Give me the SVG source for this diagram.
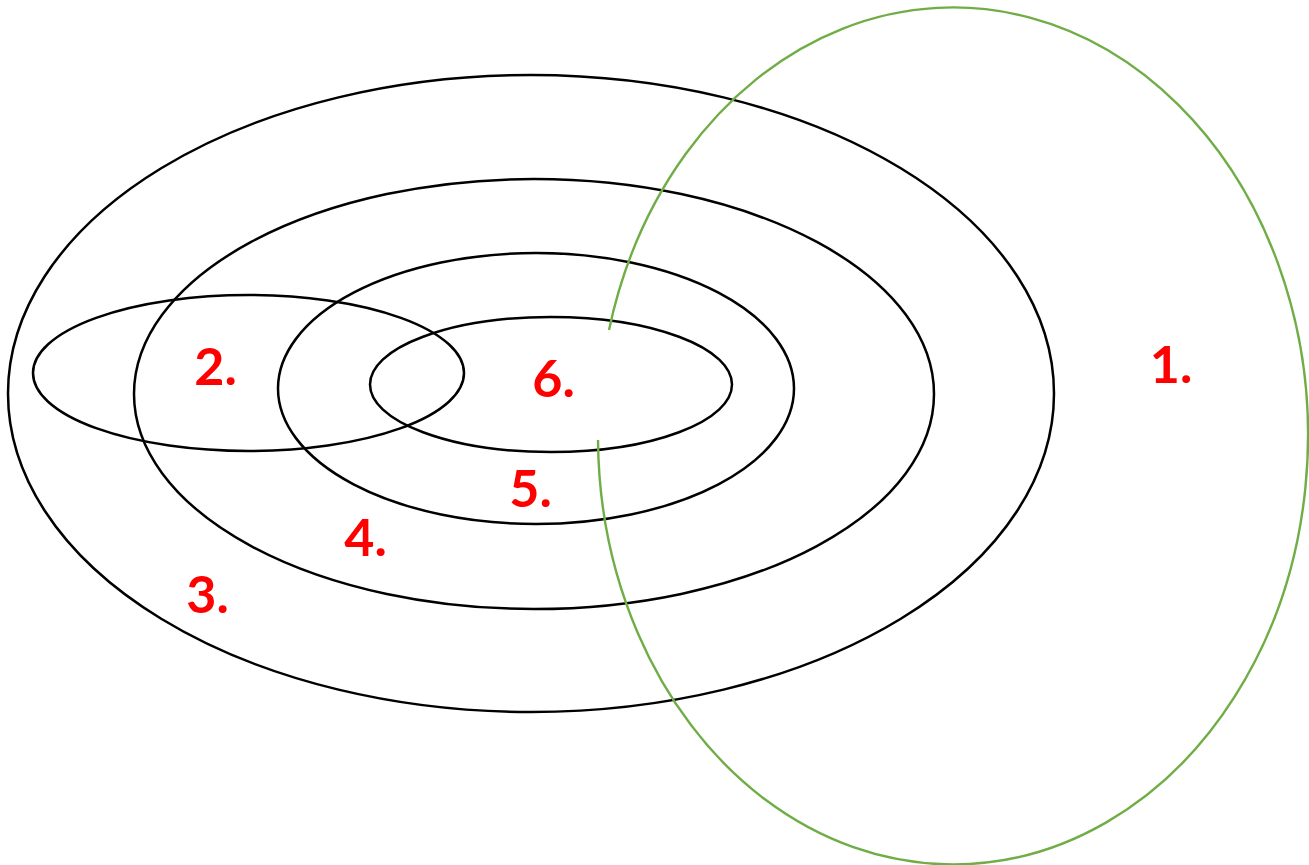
<svg xmlns="http://www.w3.org/2000/svg" width="1309" height="865" viewBox="0 0 1309 865">
<style>
.e{fill:none;stroke:#000;stroke-width:2.5}
.g{fill:none;stroke:#70AD47;stroke-width:2.4}
.t{font-family:Lato,"Open Sans",sans-serif;font-weight:bold;font-size:52px;fill:#FF0000;text-anchor:middle}
</style>
<rect width="1309" height="865" fill="#fff"/>
<g id="shapes">
<ellipse id="e3" class="e" cx="531" cy="393.5" rx="523" ry="318.5"/>
<ellipse id="e4" class="e" cx="534" cy="394" rx="400" ry="215"/>
<ellipse id="e5" class="e" cx="536" cy="388.5" rx="258" ry="135.5"/>
<ellipse id="e6" class="e" cx="551" cy="384.5" rx="181" ry="67.5"/>
<ellipse id="e2" class="e" cx="248.5" cy="373" rx="215.5" ry="78"/>
<path id="e1" class="g" d="M 609 330 A 355 428.5 0 1 1 598 440"/>
</g>
<g id="labels">
<text class="t" x="1171" y="383">1.</text>
<text class="t" x="215.5" y="385">2.</text>
<text class="t" x="207.5" y="613">3.</text>
<text class="t" x="365.5" y="556">4.</text>
<text class="t" x="530.5" y="507">5.</text>
<text class="t" x="553.5" y="397">6.</text>
</g>
</svg>
